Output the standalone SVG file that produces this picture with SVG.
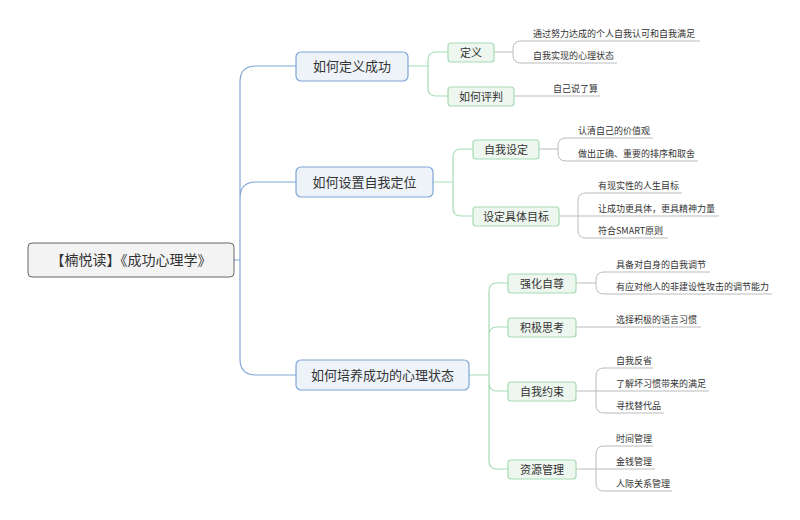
<svg xmlns="http://www.w3.org/2000/svg" width="800" height="520" viewBox="0 0 800 520">
<style>
text{font-family:"Noto Sans CJK SC","Liberation Sans",sans-serif;fill:#333}
.root rect{fill:#f3f3f3;stroke:#666;stroke-width:1}
.l1 rect{fill:#eef3fa;stroke:#7ea6d6;stroke-width:1.2}
.l2 rect{fill:#eef7ef;stroke:#a6dbb3;stroke-width:1.2}
.t0{font-size:14px;text-anchor:middle}
.t1{font-size:13px;text-anchor:middle}
.t2{font-size:11px;text-anchor:middle}
.lf{font-size:9px}
.cb{fill:none;stroke:#7ea6d6;stroke-width:1.2}
.cg{fill:none;stroke:#a6dbb3;stroke-width:1.2}
.cl{fill:none;stroke:#bbbbbb;stroke-width:1}
</style>
<g id="connectors">
<path class="cb" d="M234,260 H240 M240,260 V82 Q240,66 256,66 H296 M240,198 Q240,182 256,182 H296 M240,260 V359 Q240,375 256,375 H296"/>
<path class="cg" d="M408,66 H428 M428,66 V60 Q428,52 436,52 H448 M428,66 V88 Q428,96 436,96 H448"/>
<path class="cg" d="M433,182 H453 M453,182 V157 Q453,149 461,149 H473 M453,182 V208 Q453,216 461,216 H473"/>
<path class="cg" d="M469,375 H489 M489,375 V291 Q489,283 497,283 H508 M489,375 V335 Q489,327 497,327 H508 M489,375 V383 Q489,391 497,391 H508 M489,375 V461 Q489,469 497,469 H508"/>
<path class="cl" d="M494,52 H513 M513,52 V49 Q513,41 521,41 H700 M513,52 V55 Q513,63 521,63 H617"/>
<path class="cl" d="M514,96 H600"/>
<path class="cl" d="M539,149 H558 M558,149 V146 Q558,138 566,138 H653 M558,149 V153 Q558,161 566,161 H698"/>
<path class="cl" d="M559,216 H578 M578,216 V201 Q578,193 586,193 H682 M578,216 H719 M578,216 V230 Q578,238 586,238 H668"/>
<path class="cl" d="M576,283 H596 M596,283 V280 Q596,272 604,272 H710 M596,283 V286 Q596,294 604,294 H772"/>
<path class="cl" d="M576,327 H701"/>
<path class="cl" d="M576,391 H596 M596,391 V376 Q596,368 604,368 H653 M596,391 H709 M596,391 V405 Q596,413 604,413 H664"/>
<path class="cl" d="M576,469 H596 M596,469 V454 Q596,446 604,446 H653 M596,469 H655 M596,469 V483 Q596,491 604,491 H672"/>
</g>
<g id="root" class="root"><rect x="28" y="243" width="206" height="34" rx="4"/><text class="t0" x="131" y="265">【楠悦读】《成功心理学》</text></g>
<g id="n1" class="l1"><rect x="296" y="52" width="112" height="29" rx="5"/><text class="t1" x="352" y="71">如何定义成功</text></g>
<g id="n2" class="l1"><rect x="296" y="167" width="137" height="30" rx="5"/><text class="t1" x="364.5" y="187">如何设置自我定位</text></g>
<g id="n3" class="l1"><rect x="296" y="360" width="173" height="30" rx="5"/><text class="t1" x="382.5" y="380">如何培养成功的心理状态</text></g>
<g id="n1a" class="l2"><rect x="448" y="43" width="46" height="19" rx="3"/><text class="t2" x="471" y="56.5">定义</text></g>
<g id="n1b" class="l2"><rect x="448" y="87" width="66" height="19" rx="3"/><text class="t2" x="481" y="100.5">如何评判</text></g>
<g id="n2a" class="l2"><rect x="473" y="140" width="66" height="19" rx="3"/><text class="t2" x="506" y="153.5">自我设定</text></g>
<g id="n2b" class="l2"><rect x="473" y="207" width="86" height="19" rx="3"/><text class="t2" x="516" y="220.5">设定具体目标</text></g>
<g id="n3a" class="l2"><rect x="508" y="274" width="68" height="19" rx="3"/><text class="t2" x="542" y="287.5">强化自尊</text></g>
<g id="n3b" class="l2"><rect x="508" y="318" width="68" height="19" rx="3"/><text class="t2" x="542" y="331.5">积极思考</text></g>
<g id="n3c" class="l2"><rect x="508" y="382" width="68" height="19" rx="3"/><text class="t2" x="542" y="395.5">自我约束</text></g>
<g id="n3d" class="l2"><rect x="508" y="460" width="68" height="19" rx="3"/><text class="t2" x="542" y="473.5">资源管理</text></g>
<g id="leaves">
<text class="lf" x="533" y="37">通过努力达成的个人自我认可和自我满足</text>
<text class="lf" x="533" y="59">自我实现的心理状态</text>
<text class="lf" x="553" y="92">自己说了算</text>
<text class="lf" x="578" y="134">认清自己的价值观</text>
<text class="lf" x="578" y="157">做出正确、重要的排序和取舍</text>
<text class="lf" x="598" y="189">有现实性的人生目标</text>
<text class="lf" x="598" y="212">让成功更具体，更具精神力量</text>
<text class="lf" x="598" y="234">符合SMART原则</text>
<text class="lf" x="616" y="268">具备对自身的自我调节</text>
<text class="lf" x="616" y="290">有应对他人的非建设性攻击的调节能力</text>
<text class="lf" x="616" y="323">选择积极的语言习惯</text>
<text class="lf" x="616" y="364">自我反省</text>
<text class="lf" x="616" y="387">了解坏习惯带来的满足</text>
<text class="lf" x="616" y="409">寻找替代品</text>
<text class="lf" x="616" y="442">时间管理</text>
<text class="lf" x="616" y="465">金钱管理</text>
<text class="lf" x="616" y="487">人际关系管理</text>
</g>
</svg>
